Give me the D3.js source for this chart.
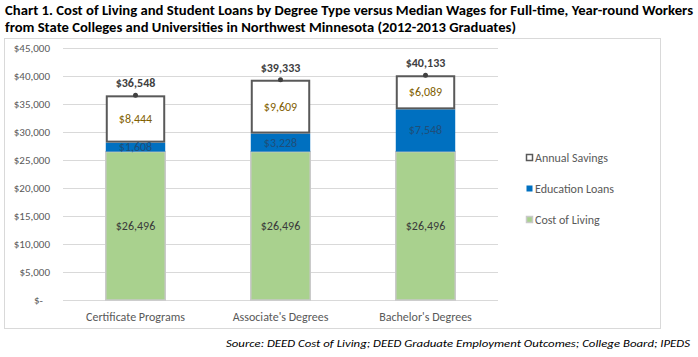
<!DOCTYPE html>
<html><head><meta charset="utf-8">
<script src="https://cdn.jsdelivr.net/npm/d3@7"></script>
<style>body{margin:0;background:#fff;} svg{display:block;}</style>
</head><body>
<svg id="c" width="698" height="357"></svg>
<script>
const categories = ["Certificate Programs", "Associate's Degrees", "Bachelor's Degrees"];
const costOfLiving = [26496, 26496, 26496];
const educationLoans = [1608, 3228, 7548];
const annualSavings = [8444, 9609, 6089];
const totals = [36548, 39333, 40133];
const yTicks = [0, 5000, 10000, 15000, 20000, 25000, 30000, 35000, 40000, 45000];
const titleLines = ["Chart 1. Cost of Living and Student Loans by Degree Type versus Median Wages for Full-time, Year-round Workers",
                    "from State Colleges and Universities in Northwest Minnesota (2012-2013 Graduates)"];
const sourceText = "Source: DEED Cost of Living; DEED Graduate Employment Outcomes; College Board; IPEDS";

const svg = d3.select("#c");
const font = "Calibri, Carlito, Lato, 'Open Sans', sans-serif";

// title
svg.selectAll("text.title").data(titleLines).enter().append("text")
  .attr("x", 5).attr("y", (d,i)=>15 + i*17)
  .attr("font-family", font).attr("font-weight", "bold").attr("font-size", 13)
  .attr("fill", "#000")
  .attr("textLength", (d,i)=> i===0 ? 688 : 511).attr("lengthAdjust", "spacingAndGlyphs")
  .text(d=>d);

// chart box
svg.append("rect").attr("x", 4.5).attr("y", 38.5).attr("width", 656).attr("height", 290)
  .attr("fill", "#fff").attr("stroke", "#d9d9d9");

const x = d3.scaleBand().domain(categories).range([63, 498]).paddingInner(0.59).paddingOuter(0.295);
const y = d3.scaleLinear().domain([0, 45000]).range([300, 48]);

// gridlines
svg.append("g").selectAll("line").data(yTicks).enter().append("line")
  .attr("x1", 63).attr("x2", 498).attr("y1", d=>Math.round(y(d))+0.5).attr("y2", d=>Math.round(y(d))+0.5)
  .attr("stroke", "#d9d9d9");

// y axis labels
const fmt = d3.format(",");
svg.append("g").selectAll("text").data(yTicks).enter().append("text")
  .attr("x", d=> d===0 ? 43 : 50).attr("y", d=>y(d)+4)
  .attr("text-anchor", "end").attr("font-family", font).attr("font-size", 11).attr("fill", "#595959")
  .text(d=> d===0 ? "$-" : "$" + fmt(d));

const bw = x.bandwidth();
// cost of living
svg.append("g").selectAll("rect").data(categories).enter().append("rect")
  .attr("x", d=>x(d)).attr("width", bw)
  .attr("y", (d,i)=>y(costOfLiving[i])).attr("height", (d,i)=>y(0)-y(costOfLiving[i]))
  .attr("fill", "#a9d18e").attr("stroke", "#c9c9c9").attr("stroke-width", 1.5);
// loans
svg.append("g").selectAll("rect").data(categories).enter().append("rect")
  .attr("x", d=>x(d)).attr("width", bw)
  .attr("y", (d,i)=>y(costOfLiving[i]+educationLoans[i])).attr("height", (d,i)=>y(costOfLiving[i])-y(costOfLiving[i]+educationLoans[i]))
  .attr("fill", "#0070c0");
// savings
svg.append("g").selectAll("rect").data(categories).enter().append("rect")
  .attr("x", d=>x(d)+1).attr("width", bw-2)
  .attr("y", (d,i)=>y(costOfLiving[i]+educationLoans[i]+annualSavings[i])+1)
  .attr("height", (d,i)=>y(costOfLiving[i]+educationLoans[i])-y(costOfLiving[i]+educationLoans[i]+annualSavings[i])-2)
  .attr("fill", "#fff").attr("stroke", "#595959").attr("stroke-width", 2);

// segment labels
const lab = (vals, base, color) => svg.append("g").selectAll("text").data(categories).enter().append("text")
  .attr("x", d=>x(d)+bw/2)
  .attr("y", (d,i)=>{ const b = base ? base[i] : 0; return (y(b) + y(b+vals[i]))/2 + 4; })
  .attr("text-anchor", "middle").attr("font-family", font).attr("font-size", 12).attr("fill", color)
  .text((d,i)=>"$" + fmt(vals[i]));
lab(costOfLiving, null, "#3a3a3a");
lab(educationLoans, costOfLiving, "#1f4e79");
lab(annualSavings, costOfLiving.map((c,i)=>c+educationLoans[i]), "#7f6000");

// totals dots and labels
svg.append("g").selectAll("circle").data(categories).enter().append("circle")
  .attr("cx", d=>x(d)+bw/2).attr("cy", (d,i)=>y(totals[i])).attr("r", 2.5).attr("fill", "#404040");
svg.append("g").selectAll("text").data(categories).enter().append("text")
  .attr("x", d=>x(d)+bw/2).attr("y", (d,i)=>y(totals[i])-8)
  .attr("text-anchor", "middle").attr("font-family", font).attr("font-size", 12).attr("font-weight", "bold").attr("fill", "#404040")
  .text((d,i)=>"$" + fmt(totals[i]));

// x labels
svg.append("g").selectAll("text").data(categories).enter().append("text")
  .attr("x", d=>x(d)+bw/2).attr("y", 321)
  .attr("text-anchor", "middle").attr("font-family", font).attr("font-size", 12).attr("fill", "#595959")
  .text(d=>d);

// legend
const legend = [
  {name: "Annual Savings", fill: "#fff", stroke: "#595959"},
  {name: "Education Loans", fill: "#0070c0", stroke: "none"},
  {name: "Cost of Living", fill: "#a9d18e", stroke: "#c9c9c9"}
];
const lg = svg.append("g").selectAll("g").data(legend).enter().append("g")
  .attr("transform", (d,i)=>`translate(526,${154 + i*31})`);
lg.append("rect").attr("x", 0.5).attr("y", 0.5).attr("width", 6).attr("height", 6)
  .attr("fill", d=>d.fill).attr("stroke", d=>d.stroke).attr("stroke-width", 1.5);
lg.append("text").attr("x", 9).attr("y", 8).attr("font-family", font).attr("font-size", 12).attr("fill", "#595959")
  .text(d=>d.name);

// source
svg.append("text").attr("x", 690).attr("y", 347).attr("text-anchor", "end")
  .attr("font-family", font).attr("font-style", "italic").attr("font-size", 11).attr("fill", "#000")
  .attr("textLength", 464).attr("lengthAdjust", "spacingAndGlyphs")
  .text(sourceText);
</script>
</body></html>
